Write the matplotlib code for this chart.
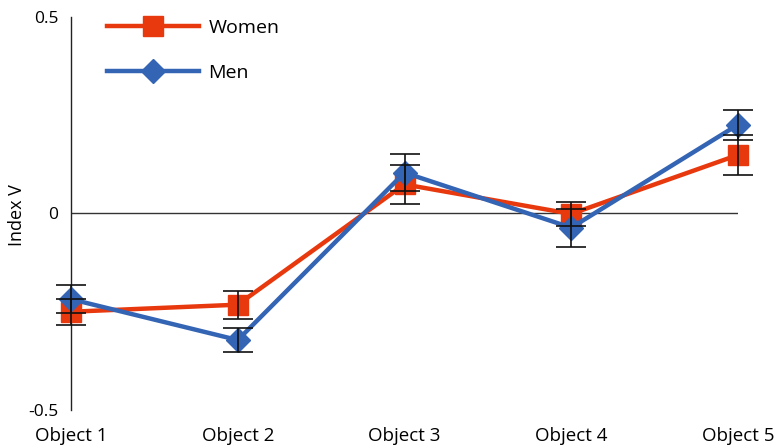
import matplotlib
matplotlib.use("Agg")
import matplotlib.pyplot as plt
import numpy as np

categories = ["Object 1", "Object 2", "Object 3", "Object 4", "Object 5"]
women = [-0.250, -0.232, 0.074, -0.001, 0.149]
men = [-0.218, -0.322, 0.104, -0.036, 0.226]
women_err = [0.033, 0.036, 0.050, 0.031, 0.050]
men_err = [0.036, 0.031, 0.047, 0.048, 0.038]
yticks = [-0.5, 0, 0.5]
ytick_labels = ["-0.5", "0", "0.5"]

plt.rcParams["font.family"] = ["Open Sans", "DejaVu Sans"]

WOMEN_COLOR = "#E8380D"
MEN_COLOR = "#3464B4"

fig = plt.figure(figsize=(7.76, 4.48), dpi=100)
ax = fig.add_axes([71 / 776, 1 - 410 / 448, (738 - 71) / 776, (410 - 17) / 448])

x = np.arange(len(categories))

ax.axhline(0, color="#333333", lw=1.0, zorder=1)

ax.plot(x, women, color=WOMEN_COLOR, lw=3.2, marker="s", ms=14,
        label="Women", zorder=3, clip_on=False)
ax.plot(x, men, color=MEN_COLOR, lw=3.2, marker="D", ms=12,
        label="Men", zorder=4, clip_on=False)

ax.errorbar(x, women, yerr=women_err, fmt="none", ecolor="#111111",
            elinewidth=1.2, capsize=11, capthick=1.2, zorder=5, clip_on=False)
ax.errorbar(x, men, yerr=men_err, fmt="none", ecolor="#111111",
            elinewidth=1.2, capsize=11, capthick=1.2, zorder=5, clip_on=False)

ax.set_xlim(0, 4)
ax.set_ylim(-0.5, 0.5)
ax.set_yticks(yticks)
ax.set_yticklabels(ytick_labels, fontsize=12.5)
ax.set_xticks(x)
ax.set_xticklabels(categories, fontsize=13.5)
ax.tick_params(axis="both", length=0)
ax.tick_params(axis="y", pad=9)
ax.tick_params(axis="x", pad=12)

for side in ["top", "right", "bottom"]:
    ax.spines[side].set_visible(False)
ax.spines["left"].set_color("#222222")
ax.spines["left"].set_linewidth(1.0)

ax.set_ylabel("Index V", fontsize=13)
ax.yaxis.set_label_coords(-0.068, 0.495)

leg = ax.legend(loc="upper left", bbox_to_anchor=(0.028, 1.04), frameon=False,
                fontsize=14, handlelength=4.7, handletextpad=0.5,
                labelspacing=1.38)

fig.savefig("out.png", dpi=100)
